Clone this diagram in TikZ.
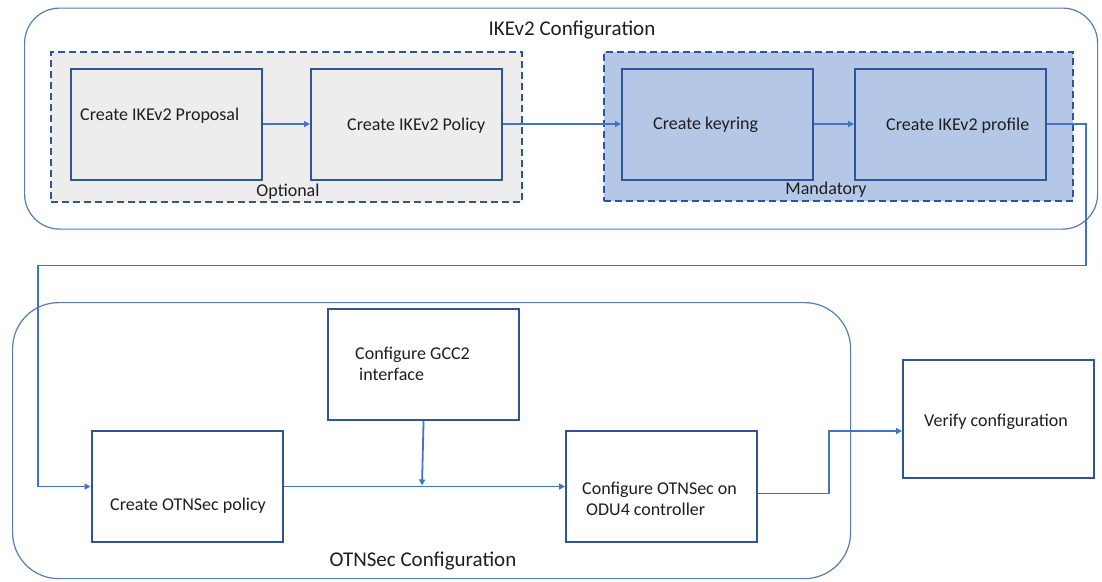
\documentclass[tikz,border=0pt]{standalone}
\usepackage{fontspec}
\setmainfont{Carlito}
\usetikzlibrary{arrows.meta}
\definecolor{boxblue}{HTML}{2F5597}
\definecolor{connblue}{HTML}{4472C4}
\definecolor{outerblue}{HTML}{5A7DB5}
\definecolor{optfill}{HTML}{EDEDED}
\definecolor{manfill}{HTML}{B4C7E7}
\definecolor{txt}{HTML}{1E1E1E}
\begin{document}
\begin{tikzpicture}[x=1pt,y=-1pt,
  outer/.style={draw=outerblue,line width=1.2pt,anchor=north west,inner sep=0pt},
  group/.style={draw=boxblue,line width=1.9pt,dash pattern=on 7pt off 4pt,anchor=north west,inner sep=0pt},
  box/.style={draw=boxblue,line width=2.1pt,anchor=north west,inner sep=0pt,minimum width=191pt,minimum height=111pt},
  lbl/.style={font=\fontsize{18}{22}\selectfont,text=txt,inner sep=0pt},
  ttl/.style={font=\fontsize{21}{25}\selectfont,text=txt,inner sep=0pt},
  conn/.style={draw=connblue,line width=1.8pt,-{Triangle[length=6pt,width=6pt]}},
  line/.style={draw=connblue,line width=1.8pt}]
\useasboundingbox (0,0) rectangle (1102,581);
\fill[white] (0,0) rectangle (1102,581);
% outer containers
\node[outer,rounded corners=35pt,minimum width=1073pt,minimum height=221pt] (ike) at (24,7.5) {};
\node[outer,rounded corners=46pt,minimum width=838pt,minimum height=276pt] (otn) at (12,302) {};
% groups
\node[group,fill=optfill,minimum width=471pt,minimum height=150pt] (opt) at (50,51) {};
\node[group,fill=manfill,minimum width=469pt,minimum height=149pt] (man) at (603,51) {};
% boxes
\node[box,fill=optfill] (prop) at (70,67.5) {};
\node[box,fill=optfill] (pol) at (310,67.5) {};
\node[box,fill=manfill] (key) at (621,67.5) {};
\node[box,fill=manfill] (prof) at (854,67.5) {};
\node[box,fill=white] (gcc) at (327,307.5) {};
\node[box,fill=white] (otp) at (90.5,430) {};
\node[box,fill=white] (odu) at (565,430) {};
\node[box,fill=white,minimum height=118pt] (ver) at (902,358.5) {};
% labels
\node[ttl] (ikettl) at (572,30) {IKEv2 Configuration};
\node[ttl] (otnttl) at (423,561) {OTNSec Configuration};
\node[lbl] (optl) at (288,192) {Optional};
\node[lbl] (manl) at (826,189.5) {Mandatory};
\node[lbl,anchor=west] (propl) at (80,116) {Create IKEv2 Proposal};
\node[lbl,anchor=west] (poll) at (347,126) {Create IKEv2 Policy};
\node[lbl,anchor=west] (keyl) at (653,125) {Create keyring};
\node[lbl,anchor=west] (profl) at (886,126) {Create IKEv2 profile};
\node[lbl,anchor=west,align=left] (gccl) at (355,364) {Configure GCC2\\[-1pt]\hspace*{4pt}interface};
\node[lbl,anchor=west] (otpl) at (110,505.5) {Create OTNSec policy};
\node[lbl,anchor=west,align=left] (odul) at (582,499) {Configure OTNSec on\\[-1pt]\hspace*{4pt}ODU4 controller};
\node[lbl,anchor=west] (verl) at (924,422) {Verify configuration};
% connectors
\coordinate (t1) at (1086,265.5);
\coordinate (t2) at (38,265.5);
\coordinate (m1) at (422,485.5);
\coordinate (v1) at (829,431);
\draw[conn] (prop.east) -- (pol.west);
\draw[conn] (pol.east) -- (key.west);
\draw[conn] (key.east) -- (prof.west);
\draw[conn] (prof.east) -| (t1) -- (t2) |- (otp.west);
\draw[conn] (otp.east) -- (odu.west);
\draw[conn] (gcc.south) -- (m1);
\draw[conn] ([yshift=-7pt]odu.east) -| (v1) -- (v1 -| ver.west);
\end{tikzpicture}
\end{document}
